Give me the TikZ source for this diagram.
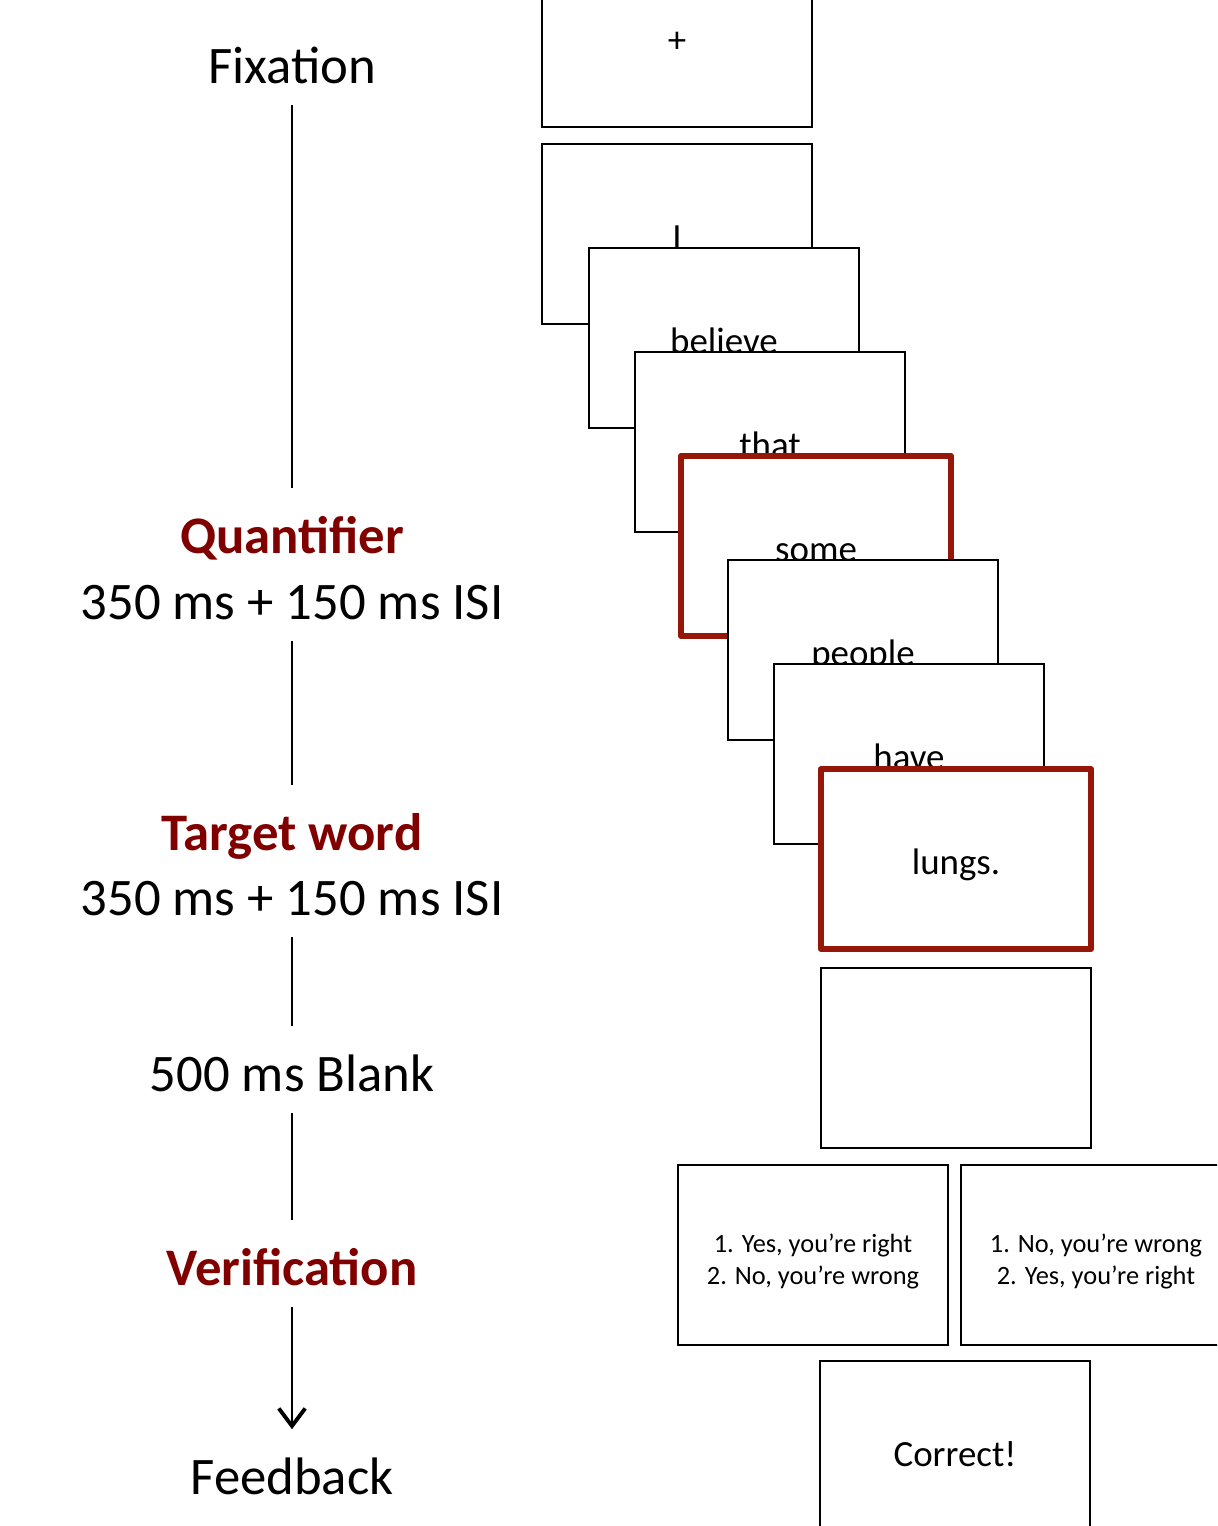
\documentclass[tikz,border=0pt]{standalone}
\usepackage{fontspec}
\setmainfont{Carlito}
\usetikzlibrary{arrows.meta}
\definecolor{keyred}{RGB}{128,0,0}
\definecolor{framered}{RGB}{150,22,8}

\begin{document}
\begin{tikzpicture}[x=0.01cm,y=-0.01cm,
	frame/.style={draw,fill=white,line width=0.6pt,minimum width=2.7cm,minimum height=1.8cm,inner sep=0pt},
	word/.style={frame,font=\fontsize{10.5}{12.6}\selectfont,text height=9pt,text depth=0pt},
	hit/.style={word,draw=framered,line width=1.7pt,line join=round},
	choice/.style={align=center,inner sep=0pt,font=\fontsize{7.5}{9}\selectfont},
	stage/.style={anchor=base,inner sep=0pt,text height=11.25pt,text depth=3.75pt,font=\fontsize{15}{18}\selectfont},
	key/.style={stage,text=keyred,font=\fontsize{15}{18}\selectfont\bfseries},
	link/.style={line width=0.7pt,shorten <=0.08cm,shorten >=0.245cm}]
		\useasboundingbox (0,0) rectangle (1217,1526);
		\clip (0,0) rectangle (1217,1526);
		
		% time line
		\node[stage] (fix) at (292,83) {Fixation};
		\node[key] (quant) at (292,553) {Quantifier};
		\node[stage] (quantT) at (292,619) {350 ms + 150 ms ISI};
		\node[key] (targ) at (292,850) {Target word};
		\node[stage] (targT) at (292,915) {350 ms + 150 ms ISI};
		\node[stage] (blank) at (292,1091) {500 ms Blank};
		\node[key] (verif) at (292,1285) {Verification};
		\node[stage] (feed) at (292,1494) {Feedback};
		
		\draw[link] (fix) -- (quant);
		\draw[link] (quantT) -- (targ);
		\draw[link] (targT) -- (blank);
		\draw[link] (blank) -- (verif);
		\draw[link,-{Straight Barb[length=5pt,width=7.5pt,line width=1.1pt]}] (verif) -- (feed);
		
		% screens
		\node[word] (plus) at (677,37) {+};
		\node[word] (w1) at (677,234) {I};
		\node[word] (w2) at (724,338) {believe};
		\node[word] (w3) at (770,442) {that};
		\node[hit] (w4) at (816,546) {some};
		\node[word] (w5) at (863,650) {people};
		\node[word] (w6) at (909,754) {have};
		\node[hit] (w7) at (956,859) {lungs.};
		\node[word] (empty) at (956,1058) {};
		\node[frame] (resp1) at (813,1255) {};
		\node[choice] at ([yshift=-0.065cm]resp1.center) {1. Yes, you're right\\2. No, you're wrong};
		\node[frame] (resp2) at (1096,1255) {};
		\node[choice] at ([yshift=-0.065cm]resp2.center) {1. No, you're wrong\\2. Yes, you're right};
		\node[word] (fb) at (955,1451) {Correct!};
	\end{tikzpicture}
\end{document}
